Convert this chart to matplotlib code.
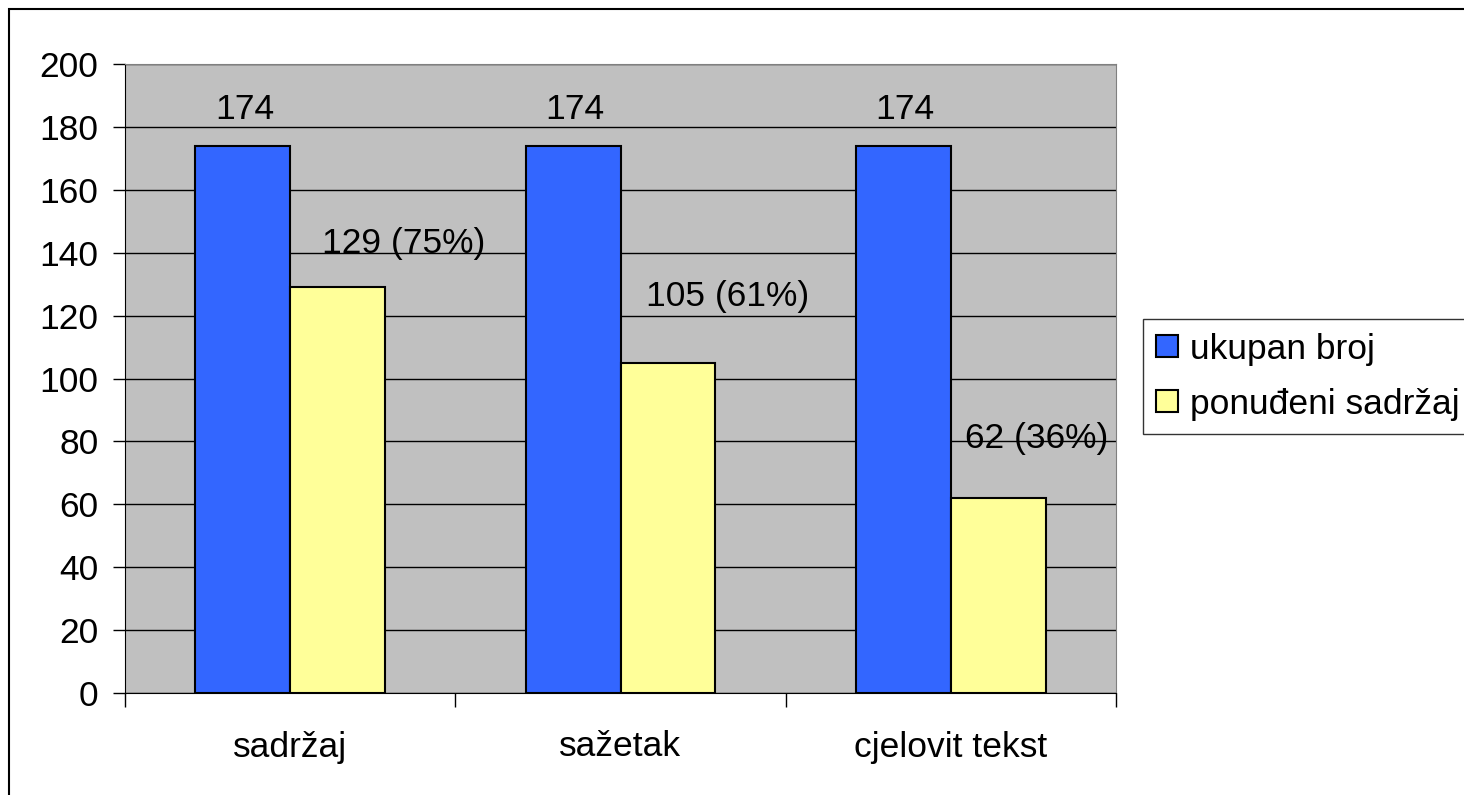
import numpy as np
import matplotlib
matplotlib.use("Agg")
from matplotlib import pyplot as plt
from matplotlib.patches import Rectangle

categories = ["sadržaj", "sažetak", "cjelovit tekst"]
ukupan_broj = [174, 174, 174]
ponudjeni = [129, 105, 62]
postotak = [75, 61, 36]
series_names = ["ukupan broj", "ponuđeni sadržaj"]

plt.rcParams['font.family'] = ['Liberation Sans', 'DejaVu Sans']
FS = 25.5

fig = plt.figure(figsize=(14.64, 7.95), dpi=100)
ax = fig.add_axes([125 / 1464, 1 - 693 / 795, (1116 - 125) / 1464, (693 - 64) / 795])

x = np.arange(len(categories))
w = 0.287
ax.set_facecolor("#C0C0C0")
ax.yaxis.grid(True, color="black", linewidth=1)
ax.set_axisbelow(True)
b1 = ax.bar(x - w / 2, ukupan_broj, w, color="#3366FF", edgecolor="black", linewidth=1.5,
            label=series_names[0])
b2 = ax.bar(x + w / 2, ponudjeni, w, color="#FFFF99", edgecolor="black", linewidth=1.5,
            label=series_names[1])

# value labels (Excel-style placement, a bit off the bar)
for xi, v in zip(x, ukupan_broj):
    ax.text(xi - w / 2 + 0.005, v + 11.5, str(v), ha="center", va="center", fontsize=FS)
label_offsets = [(0.20, 14), (0.18, 21), (0.115, 19)]
for xi, v, p, (dx, dy) in zip(x, ponudjeni, postotak, label_offsets):
    ax.text(xi + w / 2 + dx, v + dy, "%d (%d%%)" % (v, p), ha="center", va="center", fontsize=FS)

ax.set_xlim(-0.5, 2.5)
ax.set_ylim(0, 200)
ax.set_yticks(np.arange(0, 201, 20))
ax.tick_params(axis="y", labelsize=FS, length=9, width=1, color="black", pad=10)
ax.set_xticks([-0.5, 0.5, 1.5, 2.5])
ax.set_xticklabels([])
ax.set_xticks(x, minor=True)
ax.set_xticklabels(categories, minor=True)
ax.tick_params(axis="x", which="major", length=10, width=1, direction="out")
ax.tick_params(axis="x", which="minor", length=0, labelsize=FS, pad=27)

for s in ["top", "right"]:
    ax.spines[s].set_color("#808080")
for s in ["left", "bottom"]:
    ax.spines[s].set_color("black")

leg = fig.legend(handles=[b1, b2], loc="lower left",
                 bbox_to_anchor=(1143 / 1464, 1 - 434 / 795), bbox_transform=fig.transFigure,
                 fontsize=FS, frameon=True, fancybox=False, edgecolor="black",
                 handlelength=0.6, handleheight=0.6, handletextpad=0.35, borderpad=0.38,
                 labelspacing=0.62, borderaxespad=0)
leg.get_frame().set_linewidth(1)

# outer chart border (only top/left visible)
fig.patches.append(Rectangle((8.5 / 1464, -0.1), 1.2, 1 - 8.5 / 795 + 0.1,
                             transform=fig.transFigure, fill=False, edgecolor="black",
                             linewidth=1.5, clip_on=False))

fig.savefig("out.png", dpi=100)
